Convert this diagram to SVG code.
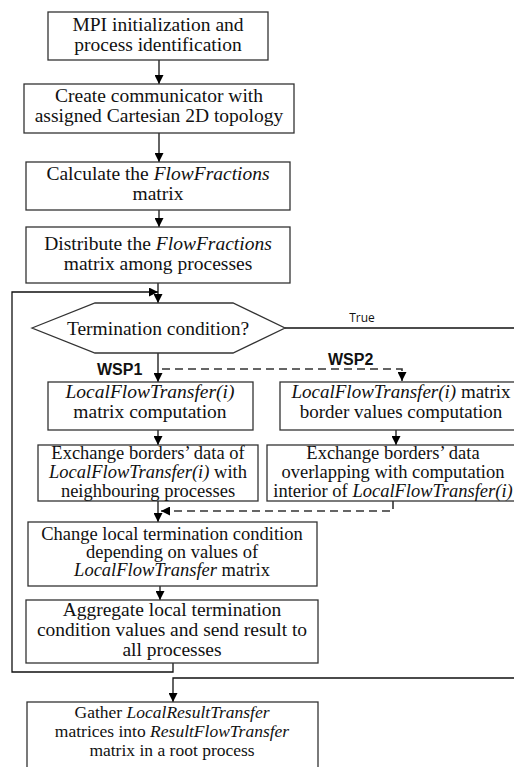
<svg xmlns="http://www.w3.org/2000/svg" width="514" height="767" viewBox="0 0 514 767">
<style>
  .box { fill: #fff; stroke: #333; stroke-width: 1.3; }
  .t { font-family: "Liberation Serif", "Times New Roman", serif; font-size: 18.5px; fill: #111; text-anchor: middle; }
  .big { font-size: 19.5px; }
  .mid { font-size: 19px; }
  .sml { font-size: 17.5px; }
  .i { font-style: italic; }
  .c { fill: none; stroke: #111; stroke-width: 1.3; }
  .d { fill: none; stroke: #333; stroke-width: 1.6; stroke-dasharray: 8 5; }
  .lbl { font-family: "Liberation Sans", Arial, sans-serif; font-weight: bold; font-size: 16px; fill: #111; }
  .sm { font-family: "Open Sans", "Liberation Sans", sans-serif; font-size: 12px; fill: #111; text-anchor: middle; }
</style>
<defs>
  <marker id="ah" viewBox="0 0 10 10" refX="10" refY="5" markerWidth="9" markerHeight="9" markerUnits="userSpaceOnUse" orient="auto">
    <path d="M0,0 L10,5 L0,10 z" fill="#000"/>
  </marker>
</defs>

<g id="connectors">
  <line class="c" x1="159" y1="60" x2="159" y2="84" marker-end="url(#ah)"/>
  <line class="c" x1="159" y1="133" x2="159" y2="162" marker-end="url(#ah)"/>
  <line class="c" x1="159" y1="210" x2="159" y2="227" marker-end="url(#ah)"/>
  <line class="c" x1="158" y1="283" x2="158" y2="303" marker-end="url(#ah)"/>
  <polyline class="c" points="173,663 173,672 12,672 12,292 158,292" marker-end="url(#ah)"/>
  <line class="c" x1="158" y1="353" x2="158" y2="382" marker-end="url(#ah)"/>
  <polyline class="d" points="162,369 402,369 402,381" marker-end="url(#ah)"/>
  <line class="c" x1="158" y1="430" x2="158" y2="445" marker-end="url(#ah)"/>
  <line class="c" x1="396" y1="430" x2="396" y2="445" marker-end="url(#ah)"/>
  <line class="c" x1="158" y1="501" x2="158" y2="522" marker-end="url(#ah)"/>
  <polyline class="d" points="393,501 393,511 161,511" marker-end="url(#ah)"/>
  <line class="c" x1="160" y1="586" x2="160" y2="600" marker-end="url(#ah)"/>
  <line class="c" x1="285" y1="328" x2="520" y2="328"/>
  <polyline class="c" points="520,678 173,678 173,702" marker-end="url(#ah)"/>
  <text class="sm" x="362" y="322">True</text>
  <text class="lbl" x="97" y="375">WSP1</text>
  <text class="lbl" x="328" y="365">WSP2</text>
</g>

<g id="n1">
  <rect class="box" x="48" y="12" width="220" height="48"/>
  <text class="t big" x="158" y="31">MPI initialization and</text>
  <text class="t big" x="158" y="51">process identification</text>
</g>
<g id="n2">
  <rect class="box" x="24" y="84" width="270" height="49"/>
  <text class="t big" x="159" y="102">Create communicator with</text>
  <text class="t big" x="159" y="122">assigned Cartesian 2D topology</text>
</g>
<g id="n3">
  <rect class="box" x="26" y="162" width="264" height="48"/>
  <text class="t big" x="158" y="180">Calculate the <tspan class="i">FlowFractions</tspan></text>
  <text class="t big" x="158" y="200">matrix</text>
</g>
<g id="n4">
  <rect class="box" x="26" y="227" width="264" height="56"/>
  <text class="t big" x="158" y="250">Distribute the <tspan class="i">FlowFractions</tspan></text>
  <text class="t big" x="158" y="270">matrix among processes</text>
</g>
<g id="n5">
  <polygon class="box" points="32,328 95,303 233,303 285,328 233,353 95,353"/>
  <text class="t big" x="158" y="335">Termination condition?</text>
</g>
<g id="n6">
  <rect class="box" x="48" y="382" width="205" height="48"/>
  <text class="t big" x="150" y="398"><tspan class="i">LocalFlowTransfer(i)</tspan></text>
  <text class="t big" x="150" y="418">matrix computation</text>
</g>
<g id="n7">
  <rect class="box" x="280" y="382" width="240" height="48"/>
  <text class="t mid" x="401" y="398"><tspan class="i">LocalFlowTransfer(i)</tspan> matrix</text>
  <text class="t mid" x="401" y="418">border values computation</text>
</g>
<g id="n8">
  <rect class="box" x="38" y="445" width="220" height="56"/>
  <text class="t" x="148" y="459">Exchange borders’ data of</text>
  <text class="t" x="148" y="478"><tspan class="i">LocalFlowTransfer(i)</tspan> with</text>
  <text class="t" x="148" y="497">neighbouring processes</text>
</g>
<g id="n9">
  <rect class="box" x="267" y="445" width="253" height="56"/>
  <text class="t" x="393" y="459">Exchange borders’ data</text>
  <text class="t" x="393" y="478">overlapping with computation</text>
  <text class="t" x="393" y="497">interior of <tspan class="i">LocalFlowTransfer(i)</tspan></text>
</g>
<g id="n10">
  <rect class="box" x="28" y="522" width="289" height="64"/>
  <text class="t" x="172" y="540">Change local termination condition</text>
  <text class="t" x="172" y="558">depending on values of</text>
  <text class="t" x="172" y="576"><tspan class="i">LocalFlowTransfer</tspan> matrix</text>
</g>
<g id="n11">
  <rect class="box" x="26" y="600" width="292" height="63"/>
  <text class="t big" x="172" y="616">Aggregate local termination</text>
  <text class="t big" x="172" y="636">condition values and send result to</text>
  <text class="t big" x="172" y="656">all processes</text>
</g>
<g id="n12">
  <rect class="box" x="27" y="702" width="291" height="70"/>
  <text class="t sml" x="172" y="718">Gather <tspan class="i">LocalResultTransfer</tspan></text>
  <text class="t sml" x="172" y="737">matrices into <tspan class="i">ResultFlowTransfer</tspan></text>
  <text class="t sml" x="172" y="756">matrix in a root process</text>
</g>
</svg>
